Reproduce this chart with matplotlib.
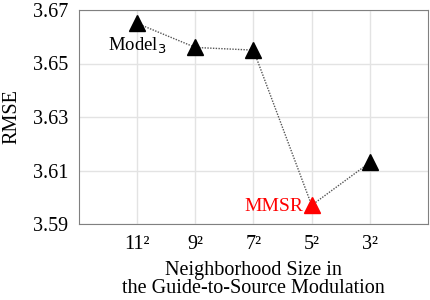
import matplotlib
matplotlib.use('Agg')
import matplotlib.pyplot as plt

# neighborhood sizes (tick labels) and RMSE values
sizes = ['11²', '9²', '7²', '5²', '3²']
rmse = [3.665, 3.656, 3.655, 3.597, 3.613]
colors = ['black', 'black', 'black', 'red', 'black']

plt.rcParams['font.family'] = ['Liberation Serif', 'DejaVu Serif']

fig = plt.figure(figsize=(4.31, 3.00), dpi=100)
ax = fig.add_axes([79/431, 1-224/300, 349/431, 214/300])

xs = list(range(1, len(sizes)+1))
ax.plot(xs, rmse, linestyle=(0, (1, 1)), color='#555555', linewidth=1, zorder=2)
for x, y, c in zip(xs, rmse, colors):
    ax.plot(x, y, marker='^', markersize=12, color=c, linestyle='none', zorder=3)

ax.text(xs[0], rmse[0]-0.0045, 'Model$_3$', ha='center', va='top', fontsize=13.5)
ax.text(xs[3]-0.15, rmse[3]-0.0003, 'MMSR', ha='right', va='center',
        fontsize=14, color='red')

ax.set_xlim(0, 6)
ax.set_ylim(3.59, 3.67)
ax.set_xticks(xs)
ax.set_xticklabels(sizes, fontsize=14.5)
ax.set_yticks([3.59, 3.61, 3.63, 3.65, 3.67])
ax.set_yticklabels(['3.59', '3.61', '3.63', '3.65', '3.67'], fontsize=14.5)
ax.tick_params(length=0, pad=8)
ax.grid(color='#e3e3e3', linewidth=1)
ax.set_axisbelow(True)
for s in ax.spines.values():
    s.set_color('#808080')

ax.set_ylabel('RMSE', fontsize=14.5, labelpad=8)
ax.set_xlabel('Neighborhood Size in\nthe Guide-to-Source Modulation', fontsize=14.5,
              labelpad=5, linespacing=0.95)

fig.savefig('out.png', dpi=100)
